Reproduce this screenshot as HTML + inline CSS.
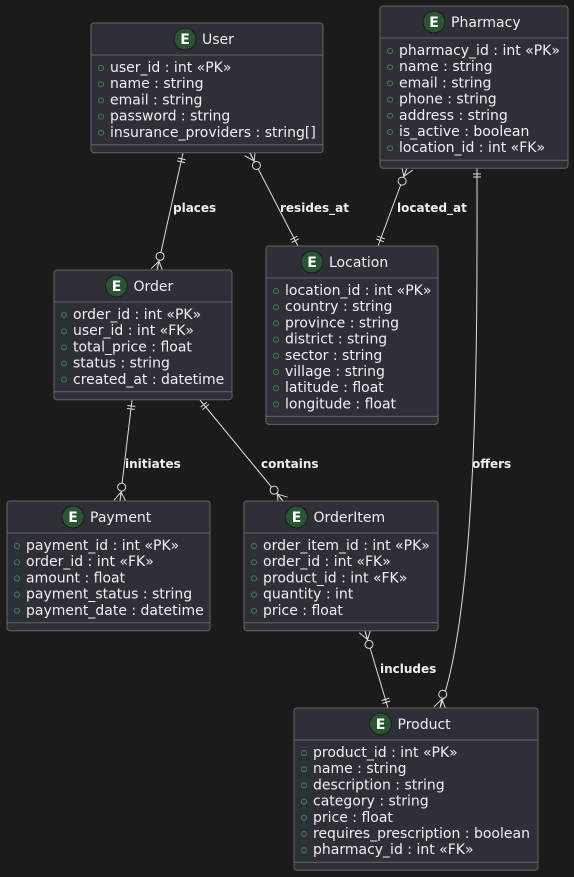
<!DOCTYPE html>
<html><head><meta charset="utf-8"><style>
html,body{margin:0;padding:0;background:#1b1b1b;}
svg{display:block;}
text{font-family:"DejaVu Sans","Liberation Sans",sans-serif;}
</style></head><body>
<svg id="s" width="574" height="877" xmlns="http://www.w3.org/2000/svg"></svg>
<script>
const s=document.getElementById('s');let h='';
const ents=[
 ['User',91,23,232,['user_id : int «PK»','name : string','email : string','password : string','insurance_providers : string[]']],
 ['Pharmacy',380,6,188,['pharmacy_id : int «PK»','name : string','email : string','phone : string','address : string','is_active : boolean','location_id : int «FK»']],
 ['Location',266,246,172,['location_id : int «PK»','country : string','province : string','district : string','sector : string','village : string','latitude : float','longitude : float']],
 ['Order',54,270,178,['order_id : int «PK»','user_id : int «FK»','total_price : float','status : string','created_at : datetime']],
 ['Payment',7,501,203,['payment_id : int «PK»','order_id : int «FK»','amount : float','payment_status : string','payment_date : datetime']],
 ['OrderItem',244,501,194,['order_item_id : int «PK»','order_id : int «FK»','product_id : int «FK»','quantity : int','price : float']],
 ['Product',294,708,244,['product_id : int «PK»','name : string','description : string','category : string','price : float','requires_prescription : boolean','pharmacy_id : int «FK»']]
];
function mark(x,y,dx,dy,kind){
 const L=Math.hypot(dx,dy);dx/=L;dy/=L;const px=-dy,py=dx;let o='';
 const ln=(a,b,c,d)=>o+=`<line x1="${a}" y1="${b}" x2="${c}" y2="${d}" stroke="#ddd" stroke-width="1"/>`;
 if(kind==='one'){for(const t of [6,9]){const cx=x+dx*t,cy=y+dy*t;ln(cx+px*4,cy+py*4,cx-px*4,cy-py*4);}}
 else{const cx=x+dx*14,cy=y+dy*14;o+=`<circle cx="${cx}" cy="${cy}" r="4" fill="#1b1b1b" stroke="#ddd"/>`;
  const tx=x+dx*9,ty=y+dy*9;ln(tx,ty,x+px*6,y+py*6);ln(tx,ty,x,y);ln(tx,ty,x-px*6,y-py*6);}
 return o;}
const edges=[
 [[183,153],[157,270],'one','many','places',173,212],
 [[250,153],[298,246],'many','one','resides_at',280,212],
 [[407,168],[378,246],'many','one','located_at',397,212],
 [[132,400],[120,501],'one','many','initiates',125,468],
 [[200,400],[283,501],'one','many','contains',261,468],
 [[365,631],[388,708],'many','one','includes',380,673]
];
for(const e of edges){const [a,b,k1,k2,l,lx,ly]=e;
 h+=`<line x1="${a[0]}" y1="${a[1]}" x2="${b[0]}" y2="${b[1]}" stroke="#ddd" stroke-width="1"/>`;
 h+=mark(a[0],a[1],b[0]-a[0],b[1]-a[1],k1)+mark(b[0],b[1],a[0]-b[0],a[1]-b[1],k2);
 h+=`<text x="${lx}" y="${ly}" fill="#eee" font-size="12" font-weight="bold">${l}</text>`;}
h+=`<path d="M477 168 C477 300 480 600 440 708" fill="none" stroke="#ddd"/>`;
h+=mark(477,168,0,1,'one')+mark(440,708,6,-30,'many');
h+=`<text x="472" y="468" fill="#eee" font-size="12" font-weight="bold">offers</text>`;
for(const [n,x,y,w,rows] of ents){
 const k=rows.length;
 const sy=y+44+(k-1)*16.2+13;
 const hh=sy+8-y;
 h+=`<rect x="${x}" y="${y}" width="${w}" height="${hh}" rx="3" fill="#2f2f37" stroke="#666" stroke-width="1"/>`;
 h+=`<line x1="${x}" y1="${y+32}" x2="${x+w}" y2="${y+32}" stroke="#666"/>`;
 h+=`<line x1="${x}" y1="${sy}" x2="${x+w}" y2="${sy}" stroke="#666"/>`;
 const tw=n.length*9+30,cx=x+w/2-tw/2+11;
 h+=`<circle cx="${cx}" cy="${y+16}" r="11" fill="#2a5535" stroke="#1b1b1b"/><text x="${cx}" y="${y+21}" text-anchor="middle" fill="#fff" font-size="14" font-weight="bold">E</text>`;
 h+=`<text x="${cx+17}" y="${y+21}" fill="#eee" font-size="14">${n}</text>`;
 rows.forEach((r,i)=>{const ry=y+44+i*16.2;
  h+=`<circle cx="${x+10}" cy="${ry+1}" r="2.5" fill="none" stroke="#3a8a4a"/>`;
  h+=`<text x="${x+19}" y="${ry+5}" fill="#f0f0f0" font-size="14">${r}</text>`;});
}
s.innerHTML=h;
</script>
</body></html>
